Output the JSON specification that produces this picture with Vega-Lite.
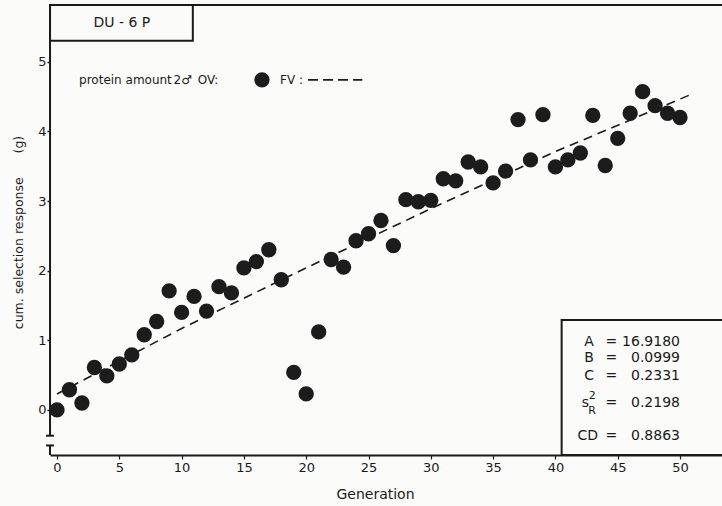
{
  "$schema": "https://vega.github.io/schema/vega-lite/v6.json",
  "width": 672,
  "height": 450,
  "autosize": {"type": "none"},
  "padding": {"left": 50, "top": 5, "right": 0, "bottom": 51},
  "background": "#fbfbfa",
  "config": {
    "view": {"stroke": null},
    "font": "DejaVu Sans",
    "text": {"font": "DejaVu Sans", "color": "#1a1a1a"}
  },
  "datasets": {
    "obs": [
      {"gx": 0, "gy": 0.00}, {"gx": 1, "gy": 0.29}, {"gx": 2, "gy": 0.10},
      {"gx": 3, "gy": 0.61}, {"gx": 4, "gy": 0.49}, {"gx": 5, "gy": 0.66},
      {"gx": 6, "gy": 0.79}, {"gx": 7, "gy": 1.08}, {"gx": 8, "gy": 1.27},
      {"gx": 9, "gy": 1.71}, {"gx": 10, "gy": 1.40}, {"gx": 11, "gy": 1.63},
      {"gx": 12, "gy": 1.42}, {"gx": 13, "gy": 1.77}, {"gx": 14, "gy": 1.68},
      {"gx": 15, "gy": 2.04}, {"gx": 16, "gy": 2.13}, {"gx": 17, "gy": 2.30},
      {"gx": 18, "gy": 1.87}, {"gx": 19, "gy": 0.54}, {"gx": 20, "gy": 0.23},
      {"gx": 21, "gy": 1.12}, {"gx": 22, "gy": 2.16}, {"gx": 23, "gy": 2.05},
      {"gx": 24, "gy": 2.43}, {"gx": 25, "gy": 2.53}, {"gx": 26, "gy": 2.72},
      {"gx": 27, "gy": 2.36}, {"gx": 28, "gy": 3.02}, {"gx": 29, "gy": 2.99},
      {"gx": 30, "gy": 3.01}, {"gx": 31, "gy": 3.32}, {"gx": 32, "gy": 3.29},
      {"gx": 33, "gy": 3.56}, {"gx": 34, "gy": 3.49}, {"gx": 35, "gy": 3.26},
      {"gx": 36, "gy": 3.43}, {"gx": 37, "gy": 4.17}, {"gx": 38, "gy": 3.59},
      {"gx": 39, "gy": 4.24}, {"gx": 40, "gy": 3.49}, {"gx": 41, "gy": 3.59},
      {"gx": 42, "gy": 3.69}, {"gx": 43, "gy": 4.23}, {"gx": 44, "gy": 3.51},
      {"gx": 45, "gy": 3.90}, {"gx": 46, "gy": 4.26}, {"gx": 47, "gy": 4.57},
      {"gx": 48, "gy": 4.37}, {"gx": 49, "gy": 4.26}, {"gx": 50, "gy": 4.20}
    ],
    "fit": [
      {"gx": 0, "gy": 0.23}, {"gx": 10, "gy": 1.17}, {"gx": 20, "gy": 2.04},
      {"gx": 30, "gy": 2.89}, {"gx": 40, "gy": 3.71}, {"gx": 51, "gy": 4.54}
    ],
    "legendDash": [
      {"gx": 20.15, "gy": 4.74}, {"gx": 24.5, "gy": 4.74}
    ],
    "legendDot": [{"gx": 16.45, "gy": 4.74}],
    "frame": [
      {"gx": -0.56, "gx2": -0.56, "gy": -0.37, "gy2": 5.815},
      {"gx": -0.88, "gx2": -0.24, "gy": -0.37, "gy2": -0.37},
      {"gx": -0.88, "gx2": -0.24, "gy": -0.51, "gy2": -0.51},
      {"gx": -0.56, "gx2": -0.56, "gy": -0.51, "gy2": -0.647},
      {"gx": -0.56, "gx2": 53.37, "gy": 5.815, "gy2": 5.815}
    ],
    "boxes": [
      {"gx": -0.56, "gx2": 10.9, "gy": 5.30, "gy2": 5.815},
      {"gx": 40.5, "gx2": 53.6, "gy": -0.647, "gy2": 1.29}
    ],
    "leftText": [
      {"gx": 1.77, "gy": 4.74, "t": "protein amount"},
      {"gx": 9.35, "gy": 4.74, "t": "2♂"},
      {"gx": 11.3, "gy": 4.74, "t": "OV:"},
      {"gx": 17.9, "gy": 4.74, "t": "FV :"}
    ],
    "centerText": [
      {"gx": 5.2, "gy": 5.56, "t": "DU - 6 P"},
      {"gx": 42.7, "gy": 0.98, "t": "A"},
      {"gx": 42.7, "gy": 0.74, "t": "B"},
      {"gx": 42.7, "gy": 0.49, "t": "C"},
      {"gx": 42.4, "gy": 0.096, "t": "s"},
      {"gx": 42.6, "gy": -0.38, "t": "CD"},
      {"gx": 44.5, "gy": 0.98, "t": "="},
      {"gx": 44.5, "gy": 0.74, "t": "="},
      {"gx": 44.5, "gy": 0.49, "t": "="},
      {"gx": 44.5, "gy": 0.096, "t": "="},
      {"gx": 44.5, "gy": -0.38, "t": "="}
    ],
    "smallText": [
      {"gx": 42.95, "gy": 0.2, "t": "2"},
      {"gx": 42.95, "gy": -0.01, "t": "R"}
    ],
    "valueText": [
      {"gx": 50.0, "gy": 0.98, "t": "16.9180"},
      {"gx": 50.0, "gy": 0.74, "t": "0.0999"},
      {"gx": 50.0, "gy": 0.49, "t": "0.2331"},
      {"gx": 50.0, "gy": 0.096, "t": "0.2198"},
      {"gx": 50.0, "gy": -0.38, "t": "0.8863"}
    ]
  },
  "encoding": {
    "x": {
      "field": "gx", "type": "quantitative",
      "scale": {"domain": [-0.562, 53.37], "nice": false, "zero": false},
      "axis": {
        "title": "Generation", "values": [0, 5, 10, 15, 20, 25, 30, 35, 40, 45, 50],
        "grid": false, "domainColor": "#1a1a1a", "domainWidth": 2,
        "tickColor": "#1a1a1a", "tickSize": 4, "tickWidth": 1.2,
        "labelFontSize": 13, "labelColor": "#1a1a1a", "labelPadding": 2, "labelFont": "DejaVu Sans",
        "titleFontSize": 14, "titleFontWeight": "normal", "titleColor": "#1a1a1a", "titleFont": "DejaVu Sans",
        "titleX": 325, "titleY": 39, "titleBaseline": "middle", "titleAlign": "center"
      }
    },
    "y": {
      "field": "gy", "type": "quantitative",
      "scale": {"domain": [-0.647, 5.815], "nice": false, "zero": false},
      "axis": {
        "title": "cum. selection response\u00a0\u00a0\u00a0\u00a0\u00a0\u00a0(g)",
        "values": [0, 1, 2, 3, 4, 5],
        "grid": false, "domain": false,
        "tickColor": "#1a1a1a", "tickSize": 3, "tickWidth": 1.5,
        "labelFontSize": 13, "labelColor": "#1a1a1a", "labelPadding": 1, "labelFont": "DejaVu Sans",
        "titleFontSize": 12.5, "titleFontWeight": "normal", "titleColor": "#1a1a1a", "titleFont": "DejaVu Sans",
        "titleX": -32, "titleY": 227, "titleAngle": -90, "titleBaseline": "middle", "titleAlign": "center"
      }
    }
  },
  "layer": [
    {
      "data": {"name": "frame"},
      "mark": {"type": "rule", "color": "#1a1a1a", "strokeWidth": 2},
      "encoding": {"x2": {"field": "gx2"}, "y2": {"field": "gy2"}}
    },
    {
      "data": {"name": "boxes"},
      "mark": {"type": "rect", "fill": "transparent", "stroke": "#1a1a1a", "strokeWidth": 2},
      "encoding": {"x2": {"field": "gx2"}, "y2": {"field": "gy2"}}
    },
    {
      "data": {"name": "fit"},
      "mark": {"type": "line", "color": "#1a1a1a", "strokeWidth": 1.6, "strokeDash": [9, 6]},
      "encoding": {}
    },
    {
      "data": {"name": "legendDash"},
      "mark": {"type": "line", "color": "#1a1a1a", "strokeWidth": 1.6, "strokeDash": [10, 5]},
      "encoding": {}
    },
    {
      "data": {"name": "obs"},
      "mark": {"type": "point", "filled": true, "size": 235, "color": "#1c1c1c", "opacity": 1}
    },
    {
      "data": {"name": "legendDot"},
      "mark": {"type": "point", "filled": true, "size": 235, "color": "#1c1c1c", "opacity": 1}
    },
    {
      "data": {"name": "leftText"},
      "mark": {"type": "text", "align": "left", "baseline": "middle", "fontSize": 12},
      "encoding": {"text": {"field": "t"}}
    },
    {
      "data": {"name": "centerText"},
      "mark": {"type": "text", "align": "center", "baseline": "middle", "fontSize": 14},
      "encoding": {"text": {"field": "t"}}
    },
    {
      "data": {"name": "smallText"},
      "mark": {"type": "text", "align": "center", "baseline": "middle", "fontSize": 11},
      "encoding": {"text": {"field": "t"}}
    },
    {
      "data": {"name": "valueText"},
      "mark": {"type": "text", "align": "right", "baseline": "middle", "fontSize": 14},
      "encoding": {"text": {"field": "t"}}
    }
  ]
}
